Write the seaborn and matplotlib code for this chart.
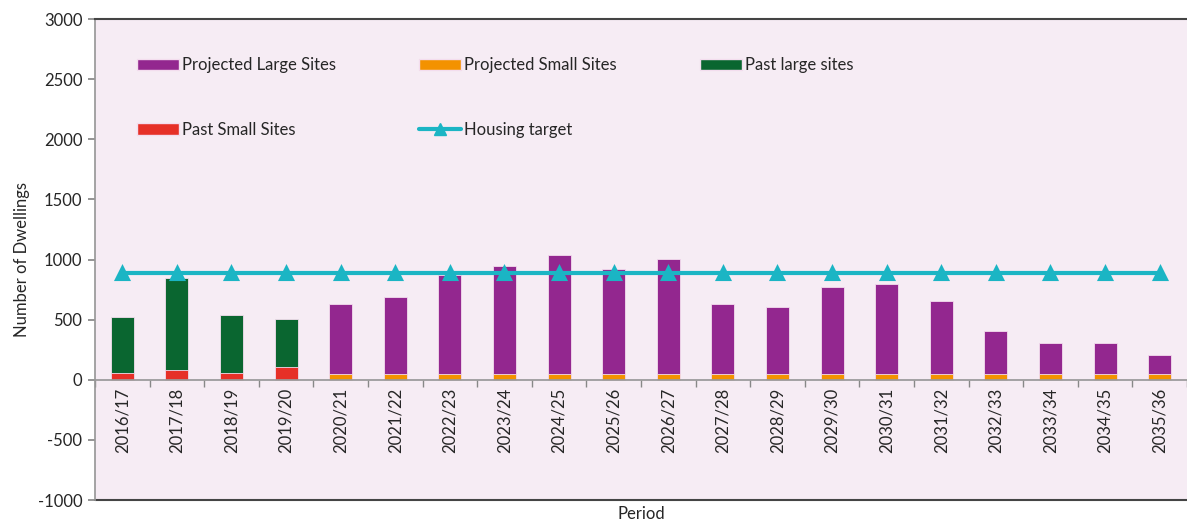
import seaborn as sns
import pandas as pd
import numpy as np
import matplotlib.pyplot as plt
from matplotlib.patches import Patch
from matplotlib.lines import Line2D

periods = ["2016/17", "2017/18", "2018/19", "2019/20", "2020/21", "2021/22", "2022/23",
           "2023/24", "2024/25", "2025/26", "2026/27", "2027/28", "2028/29", "2029/30",
           "2030/31", "2031/32", "2032/33", "2033/34", "2034/35", "2035/36"]
past_small = [55, 83, 53, 102]
past_large = [465, 762, 482, 402]
proj_small = [50] * 16
proj_large = [582, 637, 825, 892, 989, 873, 953, 576, 554, 723, 745, 604, 357, 255, 252, 160]
target = [887] * 20

n_past = len(past_small)
phase = ["Past"] * n_past + ["Projected"] * len(proj_small)
small = past_small + proj_small
large = past_large + proj_large
total = [s + l for s, l in zip(small, large)]

df = pd.DataFrame({"Period": periods, "Phase": phase, "Small": small,
                   "Total": total, "Target": target})

c_plarge = "#93278F"
c_psmall = "#F39200"
c_past_large = "#0A6630"
c_past_small = "#E63027"
c_target = "#1BB5C4"

sns.set_theme(style="white")
plt.rcParams["font.family"] = ["Lato", "DejaVu Sans"]
plt.rcParams["axes.unicode_minus"] = False

fig = plt.figure(figsize=(11.87, 5.25), dpi=100)
ax = fig.add_axes([0.080, 0.0476, 0.92, 0.9162])
ax.set_facecolor("#F6ECF4")

sns.barplot(data=df, x="Period", y="Total", hue="Phase", dodge=False, width=0.42,
            palette={"Past": c_past_large, "Projected": c_plarge}, saturation=1,
            edgecolor="#F3DDEE", linewidth=0.6, legend=False, ax=ax)
sns.barplot(data=df, x="Period", y="Small", hue="Phase", dodge=False, width=0.42,
            palette={"Past": c_past_small, "Projected": c_psmall}, saturation=1,
            edgecolor="#F3DDEE", linewidth=0.6, legend=False, ax=ax)
sns.pointplot(data=df, x="Period", y="Target", color=c_target, markers="^",
              markersize=9, linewidth=3, ax=ax)

ax.set_ylim(-1000, 3000)
ax.set_yticks(np.arange(-1000, 3001, 500))
ax.set_xlim(-0.5, len(periods) - 0.5)
ax.tick_params(axis="y", labelsize=12, length=5, color="#888888", left=True, pad=4)
ax.tick_params(axis="x", which="major", length=0, labelsize=12, rotation=90, pad=6)
ax.set_xticks(np.arange(-0.5, len(periods), 1), minor=True)
ax.tick_params(axis="x", which="minor", length=5, color="#888888", bottom=True)
for lab in ax.get_xticklabels():
    lab.set_verticalalignment("top")

ax.spines["bottom"].set_position(("data", 0))
ax.spines["bottom"].set_color("#999999")
ax.spines["left"].set_color("#999999")
ax.spines["top"].set_color("#444444")
ax.spines["top"].set_linewidth(1.5)
ax.spines["right"].set_visible(False)
ax.axhline(-1000, color="#444444", linewidth=1.5, clip_on=False)

ax.set_xlabel("Period", fontsize=12)
ax.xaxis.set_label_coords(0.5, -0.012)
ax.set_ylabel("Number of Dwellings", fontsize=12, labelpad=6)

handles = [
    Patch(facecolor=c_plarge, edgecolor="#F3DDEE", label="Projected Large Sites"),
    Patch(facecolor=c_past_small, edgecolor="#F3DDEE", label="Past Small Sites"),
    Patch(facecolor=c_psmall, edgecolor="#F3DDEE", label="Projected Small Sites"),
    Line2D([0], [0], color=c_target, linewidth=3, marker="^", markersize=8,
           label="Housing target"),
    Patch(facecolor=c_past_large, edgecolor="#F3DDEE", label="Past large sites"),
]
ax.legend(handles=handles, ncol=3, loc="upper left", bbox_to_anchor=(0.0323, 0.934),
          borderaxespad=0, frameon=False, fontsize=12, handlelength=2.5,
          handleheight=0.7, handletextpad=0.2, columnspacing=5.0, labelspacing=2.9)

plt.savefig("out.png", dpi=100)
